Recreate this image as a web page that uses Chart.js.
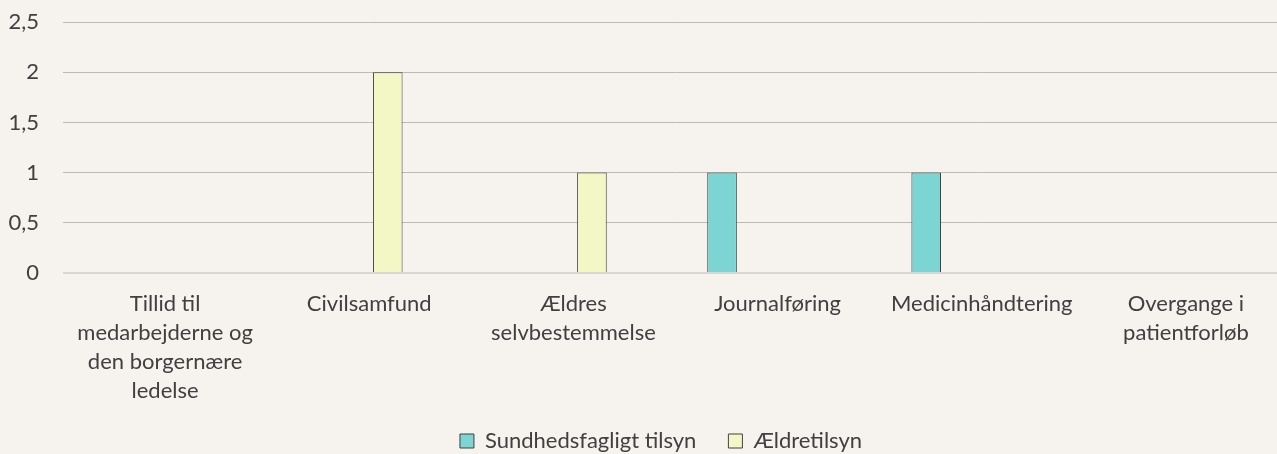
<!DOCTYPE html>
<html>
<head>
<meta charset="utf-8">
<script src="https://cdn.jsdelivr.net/npm/chart.js@4/dist/chart.umd.min.js"></script>
<style>
  html, body { margin: 0; padding: 0; background: #f6f2ee; overflow: hidden; }
  #wrap { width: 1290px; height: 454px; }
</style>
</head>
<body>
<div id="wrap"><canvas id="tilsynChart"></canvas></div>
<script>
// ===== DATA =====
const categories = [
    ['Tillid til', 'medarbejderne og', 'den borgernære', 'ledelse'],
    'Civilsamfund',
    ['Ældres', 'selvbestemmelse'],
    'Journalføring',
    'Medicinhåndtering',
    ['Overgange i', 'patientforløb']
];
const sundhedValues = [null, null, null, 1, 1, null];
const aeldreValues = [null, 2, 1, null, null, null];
// two empty series in the source sheet keep their slots in each group
const emptyValues = [null, null, null, null, null, null];
const yTicks = [0, 0.5, 1, 1.5, 2, 2.5];

const FONT = 'Lato, "Open Sans", sans-serif';
const TEXT = '#404040';

// legend sits a bit right of the canvas centre in the original
const legendShift = {
    id: 'legendShift',
    afterLayout: (chart) => {
        const lg = chart.legend;
        if (!lg) return;
        lg.left += 17; lg.right += 17;
        lg.top -= 23; lg.bottom -= 23;
    }
};

// ===== CHART =====
const ctx = document.getElementById('tilsynChart');

new Chart(ctx, {
    type: 'bar',
    data: {
        labels: categories,
        datasets: [
            { label: 'Sundhedsfagligt tilsyn', data: sundhedValues, backgroundColor: '#7dd5d3', borderColor: '#404040', borderWidth: 1 },
            { label: '', data: emptyValues },
            { label: 'Ældretilsyn', data: aeldreValues, backgroundColor: '#f2f7c5', borderColor: '#404040', borderWidth: 1 },
            { label: '', data: emptyValues }
        ]
    },
    plugins: [legendShift],
    options: {
        responsive: true,
        maintainAspectRatio: false,
        animation: false,
        categoryPercentage: 0.7255,
        barPercentage: 0.8,
        layout: { padding: { left: 0, right: 2, top: 22, bottom: -31 } },
        plugins: {
            tooltip: { enabled: false },
            legend: {
                position: 'bottom',
                labels: {
                    color: TEXT,
                    font: { family: FONT, size: 22 },
                    boxWidth: 14,
                    boxHeight: 14,
                    padding: 32,
                    filter: (item) => item.text !== ''
                }
            }
        },
        scales: {
            x: {
                grid: { display: false, drawTicks: false },
                border: { display: false },
                ticks: {
                    color: TEXT,
                    maxRotation: 0,
                    autoSkip: false,
                    padding: 16,
                    font: { family: FONT, size: 22, lineHeight: 1.318 }
                }
            },
            y: {
                min: 0,
                max: 2.5,
                afterFit: (axis) => { axis.width = 63; },
                afterBuildTicks: (axis) => { axis.ticks = yTicks.map(v => ({ value: v })); },
                border: { display: false },
                grid: {
                    drawTicks: true,
                    tickLength: 24,
                    tickColor: 'rgba(0,0,0,0)',
                    color: (c) => c.tick && c.tick.value === 0 ? '#dad6d2' : '#bdb9b5',
                    lineWidth: (c) => c.tick && c.tick.value === 0 ? 2 : 1
                },
                ticks: {
                    color: TEXT,
                    padding: 0,
                    font: { family: FONT, size: 22 },
                    callback: (v) => String(v).replace('.', ',')
                }
            }
        }
    }
});
</script>
</body>
</html>
